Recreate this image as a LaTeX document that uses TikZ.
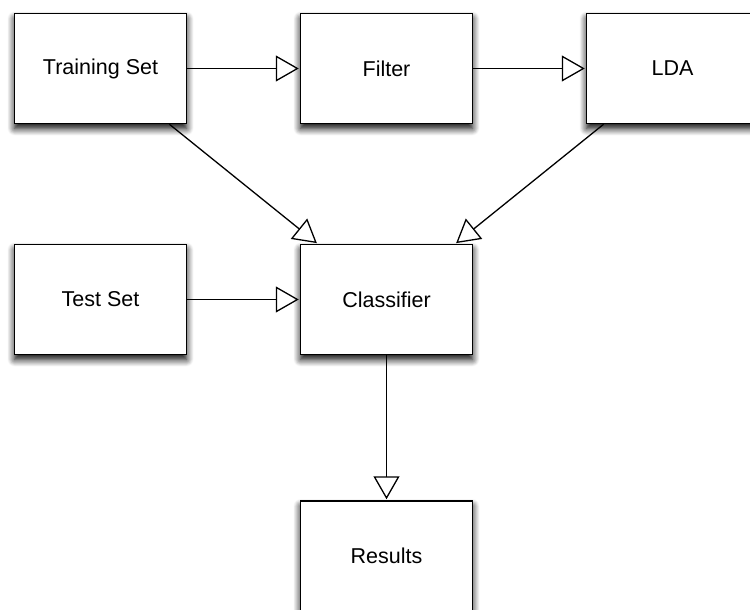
\documentclass[tikz,border=0pt]{standalone}
\usepackage{fontspec}
\setmainfont{Liberation Sans}
\usetikzlibrary{arrows.meta,shadows.blur}
\begin{document}
\begin{tikzpicture}[x=1pt,y=1pt,
  box/.style={draw=black, line width=1.5pt, fill=white,
    minimum width=172pt, minimum height=110pt, inner sep=0pt,
    font=\fontsize{21.5}{25}\selectfont,
    blur shadow={shadow xshift=0pt, shadow yshift=-5pt,
      shadow blur radius=7pt, shadow blur steps=10, shadow opacity=100}},
  flow/.style={line width=1.3pt,
    -{Triangle[open, length=23pt, width=26pt]}, shorten >=1pt}]
  \useasboundingbox (0,0) rectangle (750,-610);

  % pipeline stages
  \node[box] (train) at (100.5,-68.5) {Training Set};
  \node[box] (filter) at (386.5,-68.5) {Filter};
  \node[box] (lda) at (672.5,-68.5) {LDA};
  \node[box] (test) at (100.5,-299.5) {Test Set};
  \node[box] (clf) at (386.5,-299.5) {Classifier};
  \node[box] (res) at (386.5,-556) {Results};

  % data flow
  \draw[flow] (train) -- (filter);
  \draw[flow] (filter) -- (lda);
  \draw[flow] (train) -- (clf);
  \draw[flow] (lda) -- (clf);
  \draw[flow] (test) -- (clf);
  \draw[flow] (clf) -- (res);
\end{tikzpicture}
\end{document}
